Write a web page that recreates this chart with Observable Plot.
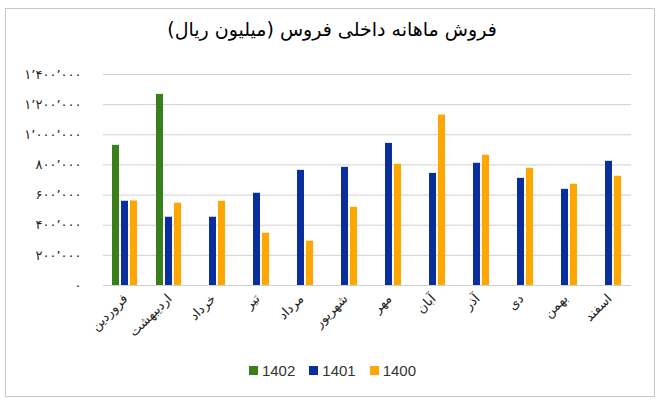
<!DOCTYPE html>
<html>
<head>
<meta charset="utf-8">
<script src="https://cdn.jsdelivr.net/npm/d3@7"></script>
<script src="https://cdn.jsdelivr.net/npm/@observablehq/plot@0.6"></script>
<style>
  html, body { margin: 0; padding: 0; background: #fff; }
  #wrap { position: relative; width: 660px; height: 400px; overflow: hidden; font-family: "DejaVu Sans", "Liberation Sans", sans-serif; }
  #frame { position: absolute; left: 5px; top: 8px; width: 650px; height: 389px; border: 1px solid #c8c8c8; box-sizing: border-box; }
  #title { position: absolute; left: 0; width: 664px; top: 18px; text-align: center; font-size: 19px; color: #000; direction: rtl; }
  #chart { position: absolute; left: 0; top: 0; }
  #legend { position: absolute; left: 0; width: 665px; top: 362px; display: flex; justify-content: center; align-items: center; font-family: "Liberation Sans", Arial, sans-serif; font-size: 15px; color: #333; }
  .item { display: flex; align-items: center; margin: 0 7px; }
  .sw { width: 9px; height: 9px; margin-right: 4px; }
</style>
</head>
<body>
<div id="wrap">
  <div id="frame"></div>
  <div id="chart"></div>
  <div id="title">فروش ماهانه داخلی فروس (میلیون ریال)</div>
  <div id="legend"></div>
</div>
<script>
const months = ["فروردین", "اردیبهشت", "خرداد", "تیر", "مرداد", "شهریور", "مهر", "آبان", "آذر", "دی", "بهمن", "اسفند"];
const seriesNames = ["1402", "1401", "1400"];
const seriesColors = ["#3A7F1A", "#0B2E9E", "#FFA600"];
const values1402 = [930000, 1268000, null, null, null, null, null, null, null, null, null, null];
const values1401 = [559000, 453000, 453000, 612000, 764000, 784000, 943000, 744000, 811000, 711000, 638000, 824000];
const values1400 = [561000, 546000, 559000, 347000, 294000, 519000, 804000, 1131000, 864000, 778000, 672000, 725000];
const yTicks = [0, 200000, 400000, 600000, 800000, 1000000, 1200000, 1400000];
const yTickLabels = ["۰", "۲۰۰٬۰۰۰", "۴۰۰٬۰۰۰", "۶۰۰٬۰۰۰", "۸۰۰٬۰۰۰", "۱٬۰۰۰٬۰۰۰", "۱٬۲۰۰٬۰۰۰", "۱٬۴۰۰٬۰۰۰"];

const seriesValues = [values1402, values1401, values1400];
const rows = [];
seriesNames.forEach((s, si) => {
  months.forEach((m, mi) => {
    const v = seriesValues[si][mi];
    if (v != null) rows.push({month: m, series: s, value: v});
  });
});

const chart = Plot.plot({
  width: 660,
  height: 352,
  marginTop: 74,
  marginBottom: 67,
  marginLeft: 97,
  marginRight: 24,
  style: {fontFamily: "DejaVu Sans, Liberation Sans, sans-serif", fontSize: "13px", color: "#222", background: "transparent"},
  fx: {domain: months, padding: 0, label: null, tickRotate: -45, tickSize: 0, tickPadding: 11, axis: "bottom"},
  x: {domain: seriesNames, paddingInner: 0.2, paddingOuter: 0.846, axis: null},
  y: {domain: [0, 1400000], ticks: yTicks, tickFormat: d => yTickLabels[yTicks.indexOf(d)], tickSize: 0, tickPadding: 22, label: null},
  color: {domain: seriesNames, range: seriesColors},
  marks: [
    Plot.ruleY(yTicks, {stroke: "#d0d0d0", strokeWidth: 1}),
    Plot.barY(rows, {fx: "month", x: "series", y: "value", fill: "series"})
  ]
});
chart.querySelectorAll("text").forEach(t => t.setAttribute("fill", "#222"));
document.getElementById("chart").appendChild(chart);

const legend = document.getElementById("legend");
seriesNames.forEach((s, i) => {
  const it = document.createElement("div");
  it.className = "item";
  const sw = document.createElement("div");
  sw.className = "sw";
  sw.style.background = seriesColors[i];
  const tx = document.createElement("span");
  tx.textContent = s;
  it.appendChild(sw);
  it.appendChild(tx);
  legend.appendChild(it);
});
</script>
</body>
</html>
